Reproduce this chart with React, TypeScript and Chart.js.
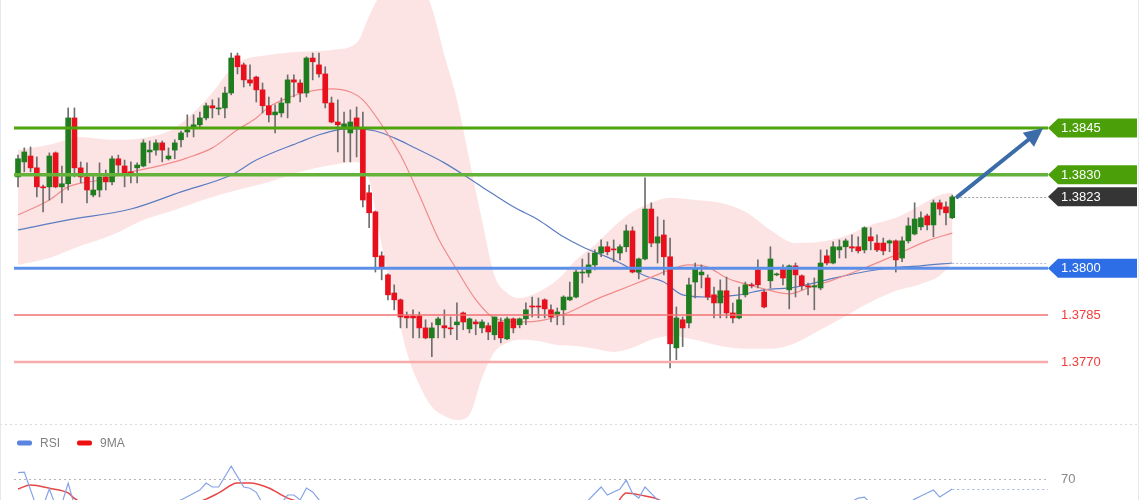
import React, { useEffect, useRef } from "react";
import { Chart, registerables } from "chart.js";

Chart.register(...registerables);

// ---------- candle data (USD/CAD-like hourly candles) ----------
const opens = [1.38293,1.38341,1.38360,1.38322,1.38261,1.38261,1.38370,1.38261,1.38271,1.38482,1.38322,1.38293,1.38235,1.38251,1.38293,1.38277,1.38351,1.38328,1.38309,1.38322,1.38328,1.38373,1.38379,1.38402,1.38351,1.38379,1.38412,1.38437,1.38453,1.38460,1.38482,1.38521,1.38511,1.38514,1.38562,1.38681,1.38652,1.38604,1.38613,1.38572,1.38521,1.38492,1.38498,1.38530,1.38604,1.38594,1.38562,1.38674,1.38652,1.38623,1.38530,1.38469,1.38453,1.38434,1.38482,1.38450,1.38242,1.38181,1.38040,1.37979,1.37921,1.37899,1.37847,1.37847,1.37847,1.37809,1.37777,1.37819,1.37816,1.37809,1.37819,1.37857,1.37806,1.37828,1.37809,1.37816,1.37787,1.37828,1.37774,1.37838,1.37819,1.37838,1.37879,1.37879,1.37899,1.37867,1.37851,1.37867,1.37899,1.37908,1.37985,1.37985,1.38011,1.38049,1.38069,1.38062,1.38049,1.38069,1.38120,1.37988,1.38030,1.38190,1.38081,1.38107,1.38037,1.37745,1.37835,1.37825,1.37956,1.37979,1.37969,1.37915,1.37889,1.37928,1.37857,1.37841,1.37915,1.37947,1.37995,1.37924,1.37960,1.37979,1.37998,1.37931,1.38008,1.37976,1.37944,1.37940,1.37937,1.38040,1.38017,1.38059,1.38069,1.38069,1.38069,1.38059,1.38101,1.38081,1.38081,1.38081,1.38088,1.38033,1.38088,1.38110,1.38133,1.38168,1.38139,1.38210,1.38197,1.38162];
const highs = [1.38363,1.38386,1.38389,1.38357,1.38267,1.38370,1.38373,1.38328,1.38514,1.38514,1.38341,1.38338,1.38299,1.38338,1.38315,1.38360,1.38363,1.38347,1.38341,1.38338,1.38412,1.38408,1.38412,1.38408,1.38386,1.38412,1.38440,1.38492,1.38492,1.38501,1.38530,1.38540,1.38546,1.38581,1.38690,1.38690,1.38658,1.38652,1.38616,1.38594,1.38549,1.38524,1.38546,1.38620,1.38620,1.38604,1.38678,1.38690,1.38690,1.38646,1.38549,1.38540,1.38501,1.38508,1.38517,1.38501,1.38267,1.38184,1.38053,1.37982,1.37947,1.37902,1.37860,1.37867,1.37860,1.37835,1.37825,1.37844,1.37867,1.37844,1.37889,1.37860,1.37841,1.37835,1.37835,1.37825,1.37844,1.37841,1.37844,1.37841,1.37841,1.37889,1.37908,1.37905,1.37902,1.37883,1.37873,1.37912,1.37956,1.37995,1.38030,1.38049,1.38059,1.38091,1.38085,1.38091,1.38075,1.38139,1.38133,1.38033,1.38290,1.38210,1.38165,1.38155,1.38097,1.37876,1.37844,1.37969,1.38017,1.38011,1.37979,1.37940,1.37963,1.37972,1.37889,1.37940,1.37956,1.37953,1.38027,1.37931,1.38069,1.37985,1.38011,1.38011,1.38017,1.37979,1.37953,1.37969,1.38059,1.38059,1.38085,1.38091,1.38094,1.38107,1.38101,1.38133,1.38130,1.38107,1.38097,1.38091,1.38091,1.38101,1.38162,1.38210,1.38181,1.38174,1.38219,1.38219,1.38213,1.38235];
const lows = [1.38261,1.38309,1.38309,1.38229,1.38181,1.38219,1.38258,1.38210,1.38251,1.38293,1.38274,1.38210,1.38229,1.38229,1.38251,1.38267,1.38306,1.38261,1.38274,1.38274,1.38325,1.38338,1.38363,1.38341,1.38347,1.38351,1.38389,1.38421,1.38421,1.38453,1.38476,1.38482,1.38492,1.38482,1.38556,1.38623,1.38581,1.38585,1.38533,1.38498,1.38469,1.38434,1.38485,1.38482,1.38549,1.38533,1.38549,1.38604,1.38613,1.38514,1.38466,1.38373,1.38341,1.38341,1.38357,1.38197,1.38130,1.37988,1.37963,1.37899,1.37867,1.37809,1.37809,1.37777,1.37777,1.37774,1.37717,1.37777,1.37777,1.37787,1.37771,1.37803,1.37793,1.37787,1.37793,1.37771,1.37771,1.37761,1.37771,1.37793,1.37809,1.37819,1.37844,1.37841,1.37841,1.37828,1.37819,1.37819,1.37896,1.37905,1.37953,1.37972,1.37995,1.38037,1.38043,1.38021,1.38027,1.38053,1.37985,1.37966,1.38027,1.38069,1.38017,1.37979,1.37681,1.37707,1.37749,1.37809,1.37905,1.37937,1.37899,1.37841,1.37841,1.37841,1.37825,1.37838,1.37908,1.37937,1.37937,1.37873,1.37937,1.37976,1.37947,1.37870,1.37908,1.37931,1.37915,1.37867,1.37931,1.38011,1.38014,1.38033,1.38033,1.38053,1.38049,1.38049,1.38059,1.38053,1.38043,1.38053,1.37988,1.38021,1.38081,1.38107,1.38123,1.38123,1.38101,1.38171,1.38139,1.38159];
const closes = [1.38351,1.38373,1.38322,1.38261,1.38258,1.38360,1.38261,1.38271,1.38482,1.38322,1.38293,1.38251,1.38251,1.38293,1.38277,1.38351,1.38331,1.38306,1.38306,1.38331,1.38402,1.38379,1.38402,1.38379,1.38360,1.38402,1.38434,1.38444,1.38460,1.38482,1.38521,1.38514,1.38514,1.38562,1.38674,1.38646,1.38604,1.38594,1.38572,1.38521,1.38492,1.38501,1.38530,1.38604,1.38597,1.38562,1.38674,1.38662,1.38623,1.38530,1.38469,1.38460,1.38463,1.38469,1.38453,1.38219,1.38178,1.38037,1.38005,1.37915,1.37899,1.37844,1.37841,1.37841,1.37809,1.37777,1.37809,1.37838,1.37809,1.37806,1.37828,1.37828,1.37838,1.37822,1.37828,1.37796,1.37844,1.37777,1.37838,1.37809,1.37838,1.37867,1.37876,1.37876,1.37870,1.37844,1.37860,1.37908,1.37908,1.37988,1.37988,1.38011,1.38049,1.38069,1.38053,1.38059,1.38069,1.38120,1.37988,1.38030,1.38190,1.38081,1.38101,1.38037,1.37758,1.37841,1.37809,1.37947,1.38001,1.37988,1.37908,1.37889,1.37928,1.37857,1.37841,1.37899,1.37947,1.37944,1.37947,1.37876,1.38030,1.37982,1.37969,1.38008,1.37979,1.37944,1.37940,1.37944,1.38017,1.38017,1.38069,1.38069,1.38088,1.38065,1.38056,1.38130,1.38088,1.38059,1.38056,1.38088,1.38027,1.38088,1.38136,1.38158,1.38162,1.38139,1.38210,1.38190,1.38178,1.38229];

// ---------- Bollinger band ----------
const bandIdx = [0,5,10,15,20,25,30,35,40,45,50,54,56,58,60,62,64,66,68,70,72,74,76,78,80,83,86,89,92,95,98,101,104,108,112,116,120,124,128,132,136,140,144,147,149];
const bandUpper = [1.38379,1.38396,1.38421,1.38412,1.38418,1.38450,1.38540,1.38658,1.38684,1.38694,1.38700,1.38722,1.38809,1.38886,1.38931,1.38963,1.38931,1.38835,1.38684,1.38540,1.38347,1.38155,1.37976,1.37921,1.37905,1.37924,1.37963,1.38027,1.38075,1.38133,1.38181,1.38210,1.38226,1.38219,1.38210,1.38181,1.38123,1.38081,1.38085,1.38104,1.38139,1.38162,1.38203,1.38235,1.38242];
const bandLower = [1.38011,1.38033,1.38072,1.38107,1.38155,1.38187,1.38222,1.38251,1.38277,1.38309,1.38331,1.38341,1.38283,1.38075,1.37905,1.37732,1.37626,1.37556,1.37527,1.37514,1.37530,1.37649,1.37732,1.37761,1.37771,1.37767,1.37754,1.37751,1.37742,1.37732,1.37745,1.37771,1.37783,1.37771,1.37751,1.37742,1.37742,1.37761,1.37803,1.37847,1.37892,1.37928,1.37950,1.37976,1.38017];

// ---------- moving averages ----------
const fastMAIdx = [0,5,8,13,18,23,27,31,35,38,40,43,46,50,53,55,58,61,64,67,70,73,76,80,84,88,92,96,100,103,107,110,113,116,119,123,126,130,135,140,145,149];
const fastMAVal = [1.38171,1.38219,1.38261,1.38283,1.38309,1.38331,1.38354,1.38386,1.38444,1.38482,1.38517,1.38546,1.38565,1.38575,1.38565,1.38540,1.38460,1.38363,1.38235,1.38097,1.37995,1.37900,1.37840,1.37828,1.37835,1.37860,1.37899,1.37931,1.37963,1.37988,1.38011,1.38004,1.37969,1.37950,1.37934,1.37918,1.37937,1.37963,1.38001,1.38043,1.38088,1.38113];
const slowMAIdx = [0,8,18,26,34,38,45,48,51,54,57,60,63,68,74,79,83,87,90,95,100,103,106,110,115,119,124,129,134,139,144,149];
const slowMAVal = [1.38123,1.38155,1.38190,1.38245,1.38299,1.38347,1.38405,1.38428,1.38444,1.38447,1.38440,1.38418,1.38389,1.38338,1.38261,1.38197,1.38155,1.38101,1.38069,1.38027,1.37976,1.37956,1.37915,1.37908,1.37915,1.37931,1.37940,1.37963,1.37985,1.38001,1.38008,1.38017];

// ---------- levels ----------
const levels = [1.3845, 1.3830, 1.3800, 1.3785, 1.3770];
const levelLabels = ["1.3845", "1.3830", "1.3800", "1.3785", "1.3770"];
const targetLevel = 1.3845;

// ---------- RSI panel ----------
const rsiIdx = [0,1,3,4,5,6,7,8,9,11,14,18,22,26,29,30,31,32,34,36,37,38,39,40,42,43,44,45,46,47,48,49,51,56,65,75,85,90,91,93,94,96,97,98,99,100,101,102,104,110,120,130,133,134,135,136,138,141,143,144,146,147,149];
const rsiVal = [73.1,73.4,56,57,65.1,57,58,68.0,57,52,50,52,55,59.8,64.6,68.0,66.1,66.1,76.3,66.1,65.5,63.5,58,55,58,62.2,62.2,59.8,65.6,63.7,59.8,55,50,30,30,38,45,55,59.8,66.1,62.2,65.1,69.5,63,60.7,66.1,63,59.8,40,48,52,55,59,60.7,61.2,58,55,56,60.2,61.7,64.6,61.2,65.1];
const rsiMAIdx = [0,2,5,8,9,12,20,26,30,32,35,37,40,43,46,50,60,80,95,96,97,100,102,105,130,145,149];
const rsiMAVal = [65.1,67.1,65.5,63.2,60.5,56,52,56,60.2,63.2,68.0,68.0,65.6,60.7,58,55,35,35,55,60.2,63.2,61.7,60.2,55,54,57,58];
const rsiLevel = 70;
const rsiLegend = ["RSI", "9MA"];

const FONT = '"Liberation Sans", Arial, Helvetica, sans-serif';
const X_MIN = -0.64;
const X_MAX = 164.27;

const pts = (xs: number[], ys: number[]) => xs.map((x, i) => ({ x, y: ys[i] }));

export default function App() {
  const mainRef = useRef<HTMLCanvasElement>(null);
  const rsiRef = useRef<HTMLCanvasElement>(null);

  useEffect(() => {
    const ids = opens.map((_, i) => i);
    const up = (i: number) => closes[i] >= opens[i];
    const last = closes.length - 1;

    const overlay = {
      id: "overlay",
      afterDatasetsDraw(chart: any) {
        const { ctx, chartArea: ca, scales } = chart;
        const xs = scales.x;
        const ys = scales.y;
        ctx.save();
        const lineColors = ["#4ea40c", "#64b23a", "#5b8fe8", "#f27070", "#f7abab"];
        const lineWidths = [3, 3.5, 3, 1.5, 2.5];
        levels.forEach((lv, k) => {
          const py = ys.getPixelForValue(lv);
          ctx.beginPath();
          ctx.strokeStyle = lineColors[k];
          ctx.lineWidth = lineWidths[k];
          ctx.moveTo(ca.left, py);
          ctx.lineTo(ca.right, py);
          ctx.stroke();
        });
        // dotted guides for last close and last slow MA
        ctx.setLineDash([2, 2]);
        ctx.lineWidth = 1;
        const pyLast = Math.round(ys.getPixelForValue(closes[last])) + 0.5;
        ctx.strokeStyle = "#9a9a9a";
        ctx.beginPath();
        ctx.moveTo(xs.getPixelForValue(last) + 4, pyLast);
        ctx.lineTo(ca.right, pyLast);
        ctx.stroke();
        const pyMA = Math.round(ys.getPixelForValue(slowMAVal[slowMAVal.length - 1])) + 0.5;
        ctx.strokeStyle = "#b8bccb";
        ctx.beginPath();
        ctx.moveTo(xs.getPixelForValue(last), pyMA);
        ctx.lineTo(ca.right, pyMA);
        ctx.stroke();
        ctx.setLineDash([]);
        // forecast arrow
        const x0 = xs.getPixelForValue(last + 0.8);
        const y0 = ys.getPixelForValue(closes[last]);
        const x1 = xs.getPixelForValue(last + 14.5);
        const y1 = ys.getPixelForValue(targetLevel);
        const ang = Math.atan2(y1 - y0, x1 - x0);
        const headLen = 19;
        const headW = 9;
        const bx = x1 - headLen * Math.cos(ang);
        const by = y1 - headLen * Math.sin(ang);
        ctx.strokeStyle = "#3b6ca8";
        ctx.fillStyle = "#3b6ca8";
        ctx.lineWidth = 4;
        ctx.lineCap = "round";
        ctx.beginPath();
        ctx.moveTo(x0, y0);
        ctx.lineTo(bx, by);
        ctx.stroke();
        ctx.beginPath();
        ctx.moveTo(x1, y1);
        ctx.lineTo(bx + headW * Math.sin(ang), by - headW * Math.cos(ang));
        ctx.lineTo(bx - headW * Math.sin(ang), by + headW * Math.cos(ang));
        ctx.closePath();
        ctx.fill();
        ctx.restore();
      },
      afterDraw(chart: any) {
        const { ctx, chartArea: ca, scales, width, height } = chart;
        const ys = scales.y;
        ctx.save();
        const tag = (py: number, bg: string, text: string) => {
          const h = 19;
          const left = ca.right;
          ctx.fillStyle = bg;
          ctx.beginPath();
          ctx.moveTo(left, py);
          ctx.lineTo(left + 10, py - h / 2);
          ctx.lineTo(width - 3, py - h / 2);
          ctx.lineTo(width - 3, py + h / 2);
          ctx.lineTo(left + 10, py + h / 2);
          ctx.closePath();
          ctx.fill();
          ctx.fillStyle = "#ffffff";
          ctx.font = `13px ${FONT}`;
          ctx.textBaseline = "middle";
          ctx.fillText(text, left + 13, py + 0.5);
        };
        tag(ys.getPixelForValue(levels[0]), "#4ba00a", levelLabels[0]);
        tag(ys.getPixelForValue(levels[1]), "#4ba00a", levelLabels[1]);
        tag(ys.getPixelForValue(closes[last]), "#353535", closes[last].toFixed(4));
        tag(ys.getPixelForValue(levels[2]), "#2d6de6", levelLabels[2]);
        ctx.fillStyle = "#f23b3b";
        ctx.font = `13px ${FONT}`;
        ctx.textBaseline = "middle";
        ctx.fillText(levelLabels[3], ca.right + 13, ys.getPixelForValue(levels[3]) + 0.5);
        ctx.fillText(levelLabels[4], ca.right + 13, ys.getPixelForValue(levels[4]) + 0.5);
        // panel separator
        ctx.setLineDash([2, 3]);
        ctx.strokeStyle = "#dcdcdc";
        ctx.lineWidth = 1;
        ctx.beginPath();
        ctx.moveTo(0, height - 0.5);
        ctx.lineTo(width, height - 0.5);
        ctx.stroke();
        ctx.setLineDash([]);
        ctx.strokeStyle = "#e4e9f0";
        ctx.beginPath();
        ctx.moveTo(0.5, 0);
        ctx.lineTo(0.5, height);
        ctx.moveTo(width - 1.5, 0);
        ctx.lineTo(width - 1.5, height);
        ctx.stroke();
        ctx.restore();
      },
    };

    const mainChart = new Chart(mainRef.current as HTMLCanvasElement, {
      type: "bar",
      data: {
        datasets: [
          {
            type: "bar",
            data: ids.map((i) => ({ x: i, y: [opens[i], closes[i]] })) as any,
            backgroundColor: ids.map((i) => (up(i) ? "#1f7d1f" : "#e8101c")),
            borderWidth: 0,
            barThickness: 5,
            minBarLength: 1,
            grouped: false,
            order: 0,
          } as any,
          {
            type: "bar",
            data: ids.map((i) => ({ x: i, y: [lows[i], highs[i]] })) as any,
            backgroundColor: "#6e6e6e",
            borderWidth: 0,
            barThickness: 1,
            grouped: false,
            order: 1,
          } as any,
          {
            type: "line",
            data: pts(fastMAIdx, fastMAVal) as any,
            borderColor: "#f08c8c",
            borderWidth: 1.2,
            pointRadius: 0,
            cubicInterpolationMode: "monotone",
            fill: false,
            order: 2,
          } as any,
          {
            type: "line",
            data: pts(slowMAIdx, slowMAVal) as any,
            borderColor: "#5a7dc2",
            borderWidth: 1.2,
            pointRadius: 0,
            cubicInterpolationMode: "monotone",
            fill: false,
            order: 3,
          } as any,
          {
            type: "line",
            data: pts(bandIdx, bandUpper) as any,
            borderColor: "rgba(0,0,0,0)",
            borderWidth: 0,
            pointRadius: 0,
            cubicInterpolationMode: "monotone",
            fill: false,
            order: 4,
          } as any,
          {
            type: "line",
            data: pts(bandIdx, bandLower) as any,
            borderColor: "rgba(0,0,0,0)",
            borderWidth: 0,
            pointRadius: 0,
            cubicInterpolationMode: "monotone",
            fill: "-1",
            backgroundColor: "rgba(250, 190, 190, 0.42)",
            order: 4,
          } as any,
        ],
      },
      options: {
        responsive: false,
        animation: false,
        devicePixelRatio: 1,
        events: [],
        layout: { padding: { left: 14, right: 92, top: 0, bottom: 1 } },
        plugins: { legend: { display: false }, tooltip: { enabled: false } },
        scales: {
          x: { type: "linear", min: X_MIN, max: X_MAX, display: false, offset: false },
          y: { type: "linear", min: 1.37501, max: 1.3886, display: false },
        },
      },
      plugins: [overlay],
    });

    const rsiOverlay = {
      id: "rsiOverlay",
      beforeDatasetsDraw(chart: any) {
        const { ctx, chartArea: ca, scales } = chart;
        const py = Math.round(scales.y.getPixelForValue(rsiLevel)) + 0.5;
        ctx.save();
        ctx.setLineDash([2, 3]);
        ctx.strokeStyle = "#b5b5b5";
        ctx.lineWidth = 1;
        ctx.beginPath();
        ctx.moveTo(ca.left, py);
        ctx.lineTo(ca.right, py);
        ctx.stroke();
        const pr = Math.round(scales.y.getPixelForValue(rsiVal[rsiVal.length - 1])) + 0.5;
        ctx.strokeStyle = "#9fb4ea";
        ctx.beginPath();
        ctx.moveTo(scales.x.getPixelForValue(rsiIdx[rsiIdx.length - 1]), pr);
        ctx.lineTo(ca.right, pr);
        ctx.stroke();
        ctx.restore();
      },
      afterDraw(chart: any) {
        const { ctx, chartArea: ca, scales, width, height } = chart;
        ctx.save();
        ctx.font = `12px ${FONT}`;
        ctx.textBaseline = "middle";
        const boxes = [
          { x: 17, color: "#5b84e0", tx: 40 },
          { x: 77, color: "#ee1010", tx: 100 },
        ];
        boxes.forEach((b, k) => {
          ctx.fillStyle = b.color;
          ctx.beginPath();
          (ctx as any).roundRect(b.x, 15.5, 15, 5, 2);
          ctx.fill();
          ctx.fillStyle = "#808080";
          ctx.fillText(rsiLegend[k], b.tx, 18.5);
        });
        ctx.font = `13px ${FONT}`;
        ctx.fillStyle = "#888888";
        ctx.fillText(String(rsiLevel), ca.right + 13, scales.y.getPixelForValue(rsiLevel) + 0.5);
        ctx.strokeStyle = "#e4e9f0";
        ctx.lineWidth = 1;
        ctx.beginPath();
        ctx.moveTo(0.5, 0);
        ctx.lineTo(0.5, height);
        ctx.moveTo(width - 1.5, 0);
        ctx.lineTo(width - 1.5, height);
        ctx.stroke();
        ctx.restore();
      },
    };

    const rsiChart = new Chart(rsiRef.current as HTMLCanvasElement, {
      type: "line",
      data: {
        datasets: [
          {
            label: rsiLegend[0],
            data: pts(rsiIdx, rsiVal) as any,
            borderColor: "#86a3e6",
            borderWidth: 1.2,
            pointRadius: 0,
            tension: 0,
            fill: false,
          },
          {
            label: rsiLegend[1],
            data: pts(rsiMAIdx, rsiMAVal) as any,
            borderColor: "#e84545",
            borderWidth: 1.5,
            pointRadius: 0,
            cubicInterpolationMode: "monotone",
            fill: false,
          } as any,
        ],
      },
      options: {
        responsive: false,
        animation: false,
        devicePixelRatio: 1,
        events: [],
        layout: { padding: { left: 14, right: 92, top: 25, bottom: 0 } },
        plugins: { legend: { display: false }, tooltip: { enabled: false } },
        scales: {
          x: { type: "linear", min: X_MIN, max: X_MAX, display: false },
          y: { type: "linear", min: 59.76, max: 84.15, display: false },
        },
      },
      plugins: [rsiOverlay],
    });

    return () => {
      mainChart.destroy();
      rsiChart.destroy();
    };
  }, []);

  return (
    <div style={{ position: "absolute", left: 0, top: 0, width: 1140, height: 500, background: "#ffffff", overflow: "hidden" }}>
      <canvas ref={mainRef} width={1140} height={425} style={{ display: "block", width: 1140, height: 425 }} />
      <canvas ref={rsiRef} width={1140} height={75} style={{ display: "block", width: 1140, height: 75 }} />
    </div>
  );
}
